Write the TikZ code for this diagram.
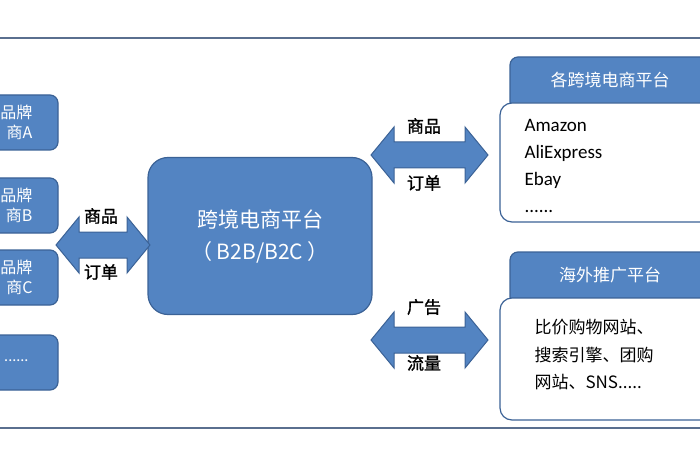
\documentclass[tikz,border=0pt]{standalone}
\usepackage{fontspec}
\setmainfont{Carlito}
\newfontfamily\cjk{Noto Sans CJK SC}
\newfontfamily\cjkb{Noto Sans CJK SC}[FakeBold=1.2]
\definecolor{bfill}{HTML}{5384C2}
\definecolor{bdraw}{HTML}{3B6296}
\definecolor{frame}{HTML}{5A6F8F}
\tikzset{
 bbox/.style={fill=bfill,draw=bdraw,line width=1.2pt,rounded corners=8pt},
 wbox/.style={fill=white,draw=bdraw,line width=1.2pt,rounded corners=12pt},
 darr/.style={fill=bfill,draw=bdraw,line width=1pt,line join=miter},
 lab/.style={font=\cjkb\fontsize{17}{17}\selectfont,fill=white,inner sep=1pt},
 wt/.style={text=white,font=\cjk\fontsize{16}{20}\selectfont,align=right}
}
\newcommand\dblarrow[3]{% x1 x2 yc
 \draw[darr] (#1,#3) -- ++(23,-28) -- ++(0,15) -- (#2-23,#3-13) -- ++(0,-15) -- (#2,#3) -- ++(-23,28) -- ++(0,-15) -- (#1+23,#3+13) -- ++(0,15) -- cycle;}
\begin{document}
\begin{tikzpicture}[x=1pt,y=-1pt]
\useasboundingbox (0,0) rectangle (700,470);
\clip (0,0) rectangle (700,470);
\draw[frame,line width=2pt] (-5,38) -- (705,38);
\draw[frame,line width=2pt] (-5,428) -- (705,428);
% left boxes
\draw[bbox] (-30,95) rectangle (58,150);
\node[wt,anchor=east] (ta) at (36,122) {品牌\\商A};
\draw[bbox] (-30,178) rectangle (58,233);
\node[wt,anchor=east] (tb) at (36,205) {品牌\\商B};
\draw[bbox] (-30,250) rectangle (58,305);
\node[wt,anchor=east] (tc) at (36,277) {品牌\\商C};
\draw[bbox] (-30,335) rectangle (58,390);
\node[text=white,font=\fontsize{16}{16}\selectfont,anchor=east] (td) at (32,361) {......};
% center
\node[bbox,rounded corners=20pt,minimum width=224pt,minimum height=157pt,text=white,font=\cjk\fontsize{21}{32}\selectfont,align=center] (c) at (260,236) {跨境电商平台\\（ B2B/B2C ）};
% arrows
\dblarrow{56}{150}{245}
\node[lab] (l1a) at (101,216) {商品};
\node[lab] (l1b) at (101,272) {订单};
\dblarrow{371}{488}{155}
\node[lab] (l2a) at (424,126) {商品};
\node[lab] (l2b) at (424,183) {订单};
\dblarrow{371}{488}{340}
\node[lab] (l3a) at (424,307) {广告};
\node[lab] (l3b) at (424,363) {流量};
% right panels
\draw[bbox] (510,57) rectangle (740,110);
\node[text=white,font=\cjk\fontsize{17}{17}\selectfont] (h1) at (610,80) {各跨境电商平台};
\draw[wbox] (500,103) rectangle (740,222);
\node[anchor=west,align=left,font=\fontsize{19}{27}\selectfont] (l1) at (521,166) {Amazon\\AliExpress\\Ebay\\......};
\draw[bbox] (510,252) rectangle (740,305);
\node[text=white,font=\cjk\fontsize{17}{17}\selectfont] (h2) at (610,275) {海外推广平台};
\draw[wbox] (500,298) rectangle (740,420);
\node[anchor=west,align=left,font=\cjk\fontsize{17}{27.5}\selectfont] (l2) at (531,355) {比价购物网站、\\搜索引擎、团购\\网站、SNS.....};
\end{tikzpicture}
\end{document}
